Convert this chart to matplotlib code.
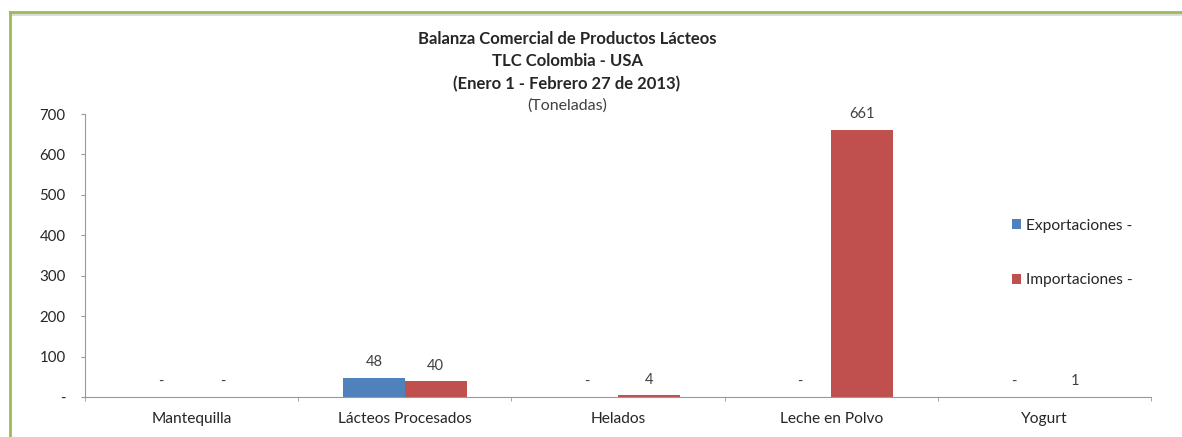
import matplotlib
matplotlib.use("Agg")
import matplotlib.pyplot as plt
import numpy as np
from matplotlib.lines import Line2D
from matplotlib.patches import Patch

categories = ["Mantequilla", "Lácteos Procesados", "Helados", "Leche en Polvo", "Yogurt"]
exportaciones = [0, 48, 0, 0, 0]
importaciones = [0, 40, 4, 661, 1]
yticks = [0, 100, 200, 300, 400, 500, 600, 700]
ytick_labels = ["-", "100", "200", "300", "400", "500", "600", "700"]
title_lines = ["Balanza Comercial de Productos Lácteos", "TLC Colombia - USA",
               "(Enero 1 - Febrero 27 de 2013)"]
subtitle = "(Toneladas)"
series_names = ["Exportaciones -", "Importaciones -"]

W, H = 1182, 437
FONT = ["Lato", "DejaVu Sans"]
plt.rcParams['font.family'] = FONT
fig = plt.figure(figsize=(W / 100, H / 100), dpi=100)

# green frame (top and left) with light shadow
fig.add_artist(Line2D([10 / W, 1], [1 - 14 / H, 1 - 14 / H], color="#d9d9d9", lw=2, transform=fig.transFigure))
fig.add_artist(Line2D([10 / W, 1], [1 - 12 / H, 1 - 12 / H], color="#9bbb59", lw=2, transform=fig.transFigure))
fig.add_artist(Line2D([10 / W, 10 / W], [0, 1 - 12 / H], color="#9bbb59", lw=2, transform=fig.transFigure))

ax = fig.add_axes([85 / W, 40 / H, 1066 / W, 283 / H])
x = np.arange(len(categories))
bw = 0.29
blue = "#4F81BD"
red = "#C0504D"
b1 = ax.bar(x - bw / 2, exportaciones, bw, color=blue, edgecolor="none")
b2 = ax.bar(x + bw / 2, importaciones, bw, color=red, edgecolor="none")

for bars, vals in ((b1, exportaciones), (b2, importaciones)):
    for rect, v in zip(bars, vals):
        lab = "-" if v == 0 else f"{v:d}"
        ax.annotate(lab, (rect.get_x() + rect.get_width() / 2, v), xytext=(0, 11),
                    textcoords="offset points", ha="center", va="center",
                    fontsize=10.5, color="#404040")

ax.set_xlim(-0.5, len(categories) - 0.5)
ax.set_ylim(0, 700)
ax.set_yticks(yticks)
ax.set_yticklabels(ytick_labels)
ax.set_xticks(x)
ax.set_xticklabels(categories)
ax.set_xticks(np.arange(-0.5, len(categories)), minor=True)
ax.tick_params(axis="x", which="major", length=0, pad=11, labelsize=11.2, labelcolor="#262626")
ax.tick_params(axis="x", which="minor", length=3, color="#999999", direction="out")
ax.tick_params(axis="y", length=3, color="#999999", pad=11, labelsize=10.8, labelcolor="#262626")
for s in ["top", "right"]:
    ax.spines[s].set_visible(False)
ax.spines["left"].set_color("#999999")
ax.spines["bottom"].set_color("#999999")

cx = 567 / W
ys = [39, 61, 84]
for t, yy in zip(title_lines, ys):
    fig.text(cx, 1 - yy / H, t, ha="center", va="center", fontsize=12, fontweight="bold", color="#262626")
fig.text(cx, 1 - 106 / H, subtitle, ha="center", va="center", fontsize=11.5, color="#404040")

handles = [Patch(facecolor=blue), Patch(facecolor=red)]
leg = fig.legend(handles, series_names, loc="center left", bbox_to_anchor=(1012 / W, 1 - 253 / H),
                 frameon=False, fontsize=11.2, labelspacing=2.6, handlelength=0.6, handleheight=0.6,
                 handletextpad=0.3, borderaxespad=0, borderpad=0)
for t in leg.get_texts():
    t.set_color("#262626")

fig.savefig("out.png", dpi=100)
